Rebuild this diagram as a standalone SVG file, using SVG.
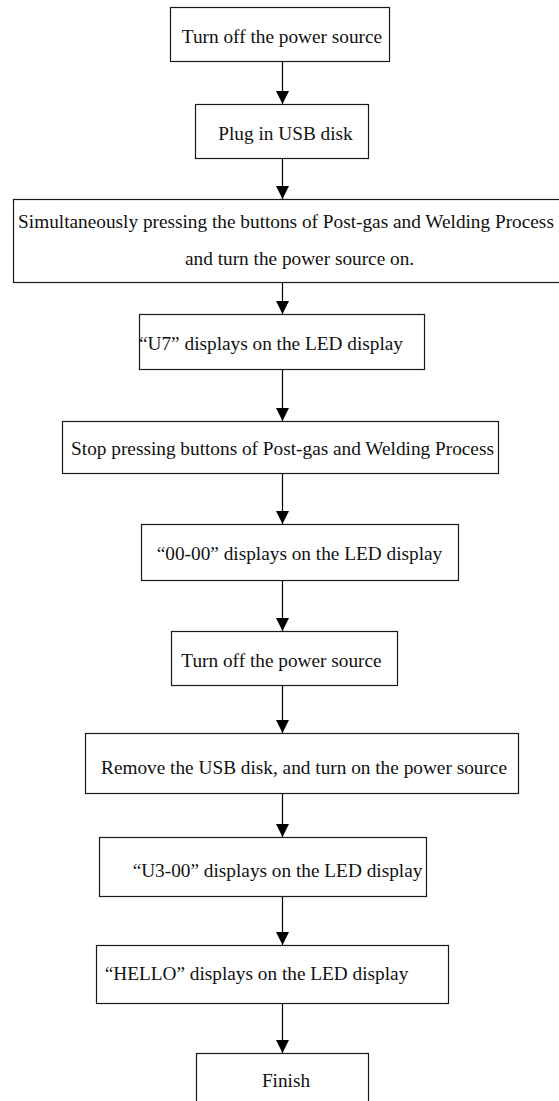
<svg xmlns="http://www.w3.org/2000/svg" width="559" height="1101" viewBox="0 0 559 1101">
<style>
.box{fill:#fff;stroke:#1a1a1a;stroke-width:1.2}
.t{font-family:"Liberation Serif","Times New Roman",serif;font-size:19.3px;fill:#111;text-anchor:middle}
.s{text-anchor:start}
.c{stroke:#000;stroke-width:1.2;fill:none}
</style>
<defs>
<marker id="ah" markerUnits="userSpaceOnUse" markerWidth="13" markerHeight="13" refX="13" refY="6.5" orient="auto">
<path d="M0,0 L13,6.5 L0,13 z" fill="#000"/>
</marker>
</defs>
<rect width="559" height="1101" fill="#fff"/>
<g id="connectors">
<line class="c" x1="282.5" y1="61" x2="282.5" y2="104" marker-end="url(#ah)"/>
<line class="c" x1="282.5" y1="158" x2="282.5" y2="199" marker-end="url(#ah)"/>
<line class="c" x1="282.5" y1="282" x2="282.5" y2="314" marker-end="url(#ah)"/>
<line class="c" x1="282.5" y1="369" x2="282.5" y2="421" marker-end="url(#ah)"/>
<line class="c" x1="282.5" y1="473" x2="282.5" y2="524" marker-end="url(#ah)"/>
<line class="c" x1="282.5" y1="580" x2="282.5" y2="631" marker-end="url(#ah)"/>
<line class="c" x1="282.5" y1="685" x2="282.5" y2="733" marker-end="url(#ah)"/>
<line class="c" x1="282.5" y1="793" x2="282.5" y2="837" marker-end="url(#ah)"/>
<line class="c" x1="282.5" y1="896" x2="282.5" y2="945" marker-end="url(#ah)"/>
<line class="c" x1="282.5" y1="1003" x2="282.5" y2="1053" marker-end="url(#ah)"/>
</g>
<g id="n1"><rect class="box" x="170.5" y="7.5" width="219" height="54"/><text class="t" x="282" y="43">Turn off the power source</text></g>
<g id="n2"><rect class="box" x="195.5" y="104.5" width="173" height="54"/><text class="t" x="285.5" y="140">Plug in USB disk</text></g>
<g id="n3"><rect class="box" x="13.5" y="199.5" width="560" height="83"/><text class="t" x="286" y="228">Simultaneously pressing the buttons of Post-gas and Welding Process</text><text class="t s" x="185" y="265">and turn the power source on.</text></g>
<g id="n4"><rect class="box" x="139.5" y="314.5" width="285" height="55"/><text class="t" x="271" y="350">“U7” displays on the LED display</text></g>
<g id="n5"><rect class="box" x="62.5" y="421.5" width="436" height="52"/><text class="t" x="282.5" y="455">Stop pressing buttons of Post-gas and Welding Process</text></g>
<g id="n6"><rect class="box" x="141.5" y="524.5" width="317" height="56"/><text class="t" x="299.5" y="560">“00-00” displays on the LED display</text></g>
<g id="n7"><rect class="box" x="171.5" y="631.5" width="226" height="54"/><text class="t" x="281.5" y="667">Turn off the power source</text></g>
<g id="n8"><rect class="box" x="85.5" y="733.5" width="433" height="60"/><text class="t" x="304" y="774">Remove the USB disk, and turn on the power source</text></g>
<g id="n9"><rect class="box" x="99.5" y="837.5" width="327" height="59"/><text class="t" x="277.5" y="877">“U3-00” displays on the LED display</text></g>
<g id="n10"><rect class="box" x="96.5" y="945.5" width="352" height="58"/><text class="t" x="256.5" y="980">“HELLO” displays on the LED display</text></g>
<g id="n11"><rect class="box" x="196.5" y="1053.5" width="172" height="60"/><text class="t" x="286" y="1087">Finish</text></g>
</svg>
